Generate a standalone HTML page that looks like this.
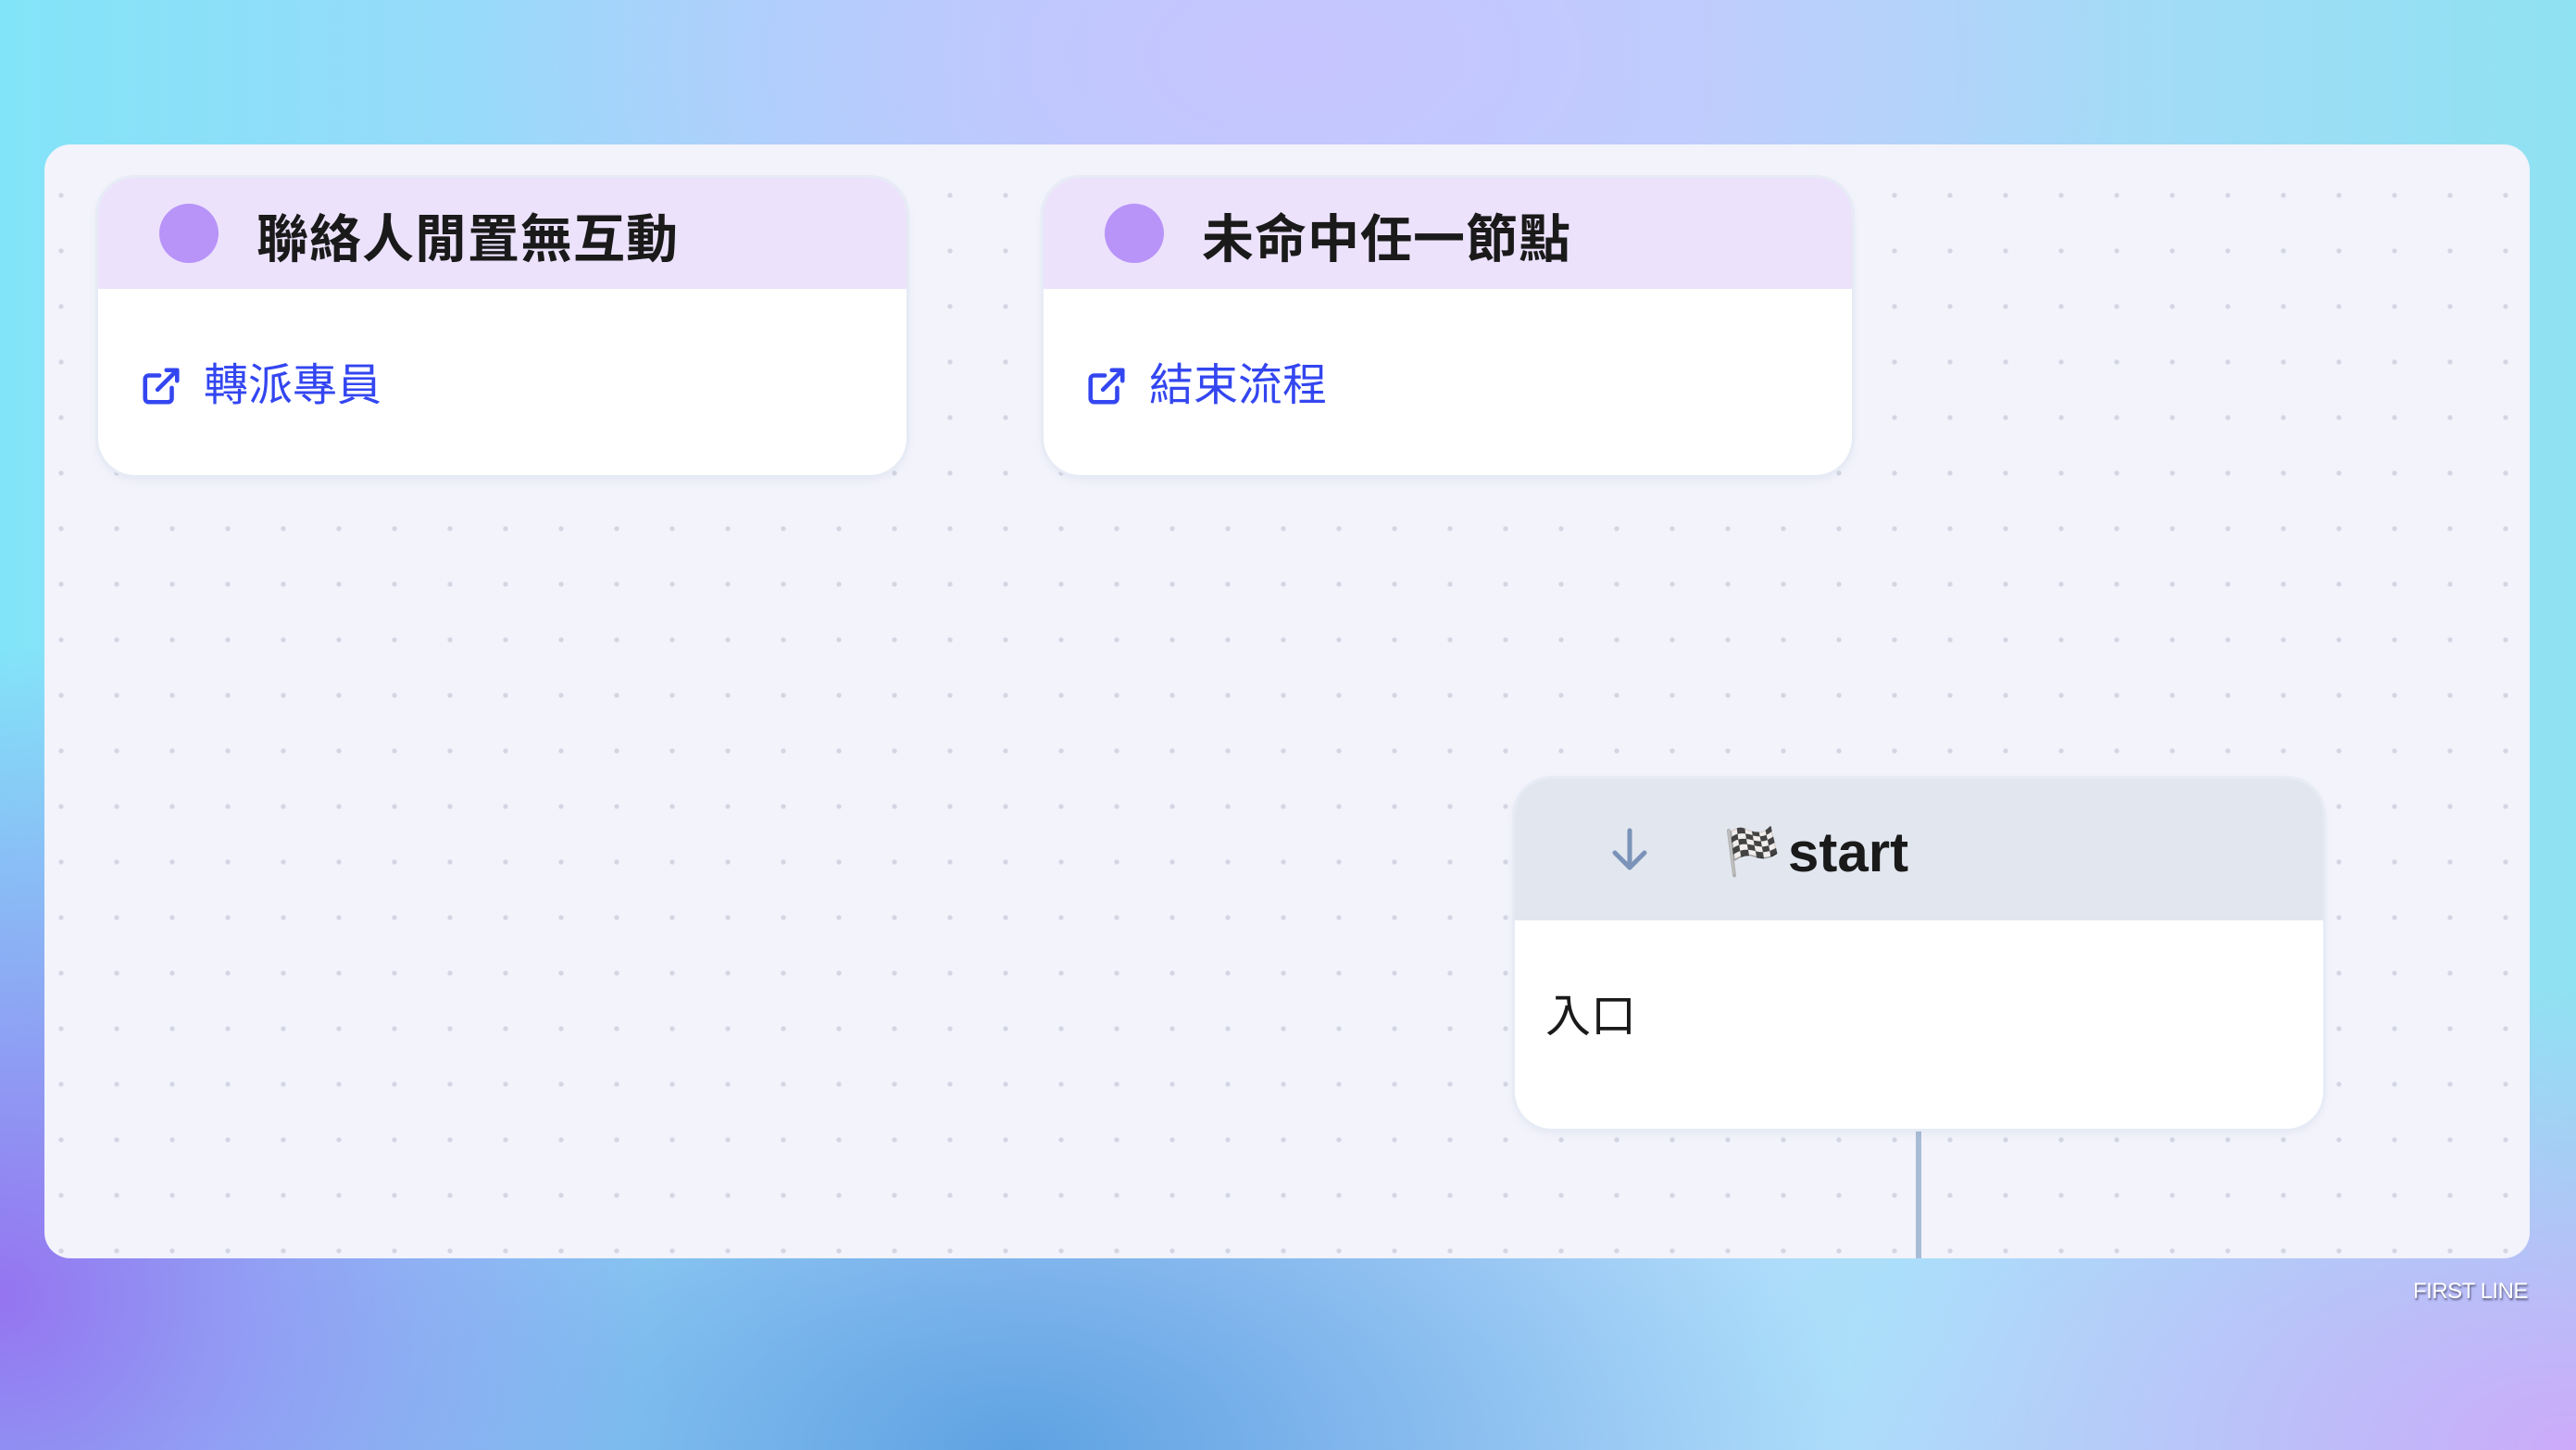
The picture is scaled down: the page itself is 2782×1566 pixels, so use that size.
<!DOCTYPE html>
<html><head><meta charset="utf-8">
<style>
html,body{margin:0;padding:0}
body{width:2782px;height:1566px;position:relative;overflow:hidden;
font-family:"Liberation Sans","Noto Sans CJK TC",sans-serif;
background:
radial-gradient(ellipse 900px 500px at 1400px 60px, rgba(200,196,255,0.95), rgba(200,196,255,0) 100%),
radial-gradient(ellipse 700px 700px at 0px 1400px, rgba(150,110,240,0.95), rgba(150,110,240,0) 100%),
radial-gradient(ellipse 900px 500px at 1100px 1566px, rgba(90,160,225,0.95), rgba(90,160,225,0) 100%),
radial-gradient(ellipse 800px 500px at 2782px 1566px, rgba(205,170,250,1), rgba(205,170,250,0) 100%),
radial-gradient(ellipse 800px 400px at 2100px 1450px, rgba(170,225,250,0.9), rgba(170,225,250,0) 100%),
linear-gradient(90deg,#82e4f8 0%,#b0cffb 40%,#b8d4fb 65%,#8fe2f2 100%);}
.panel{position:absolute;left:48px;top:156px;width:2684px;height:1203px;border-radius:28px;overflow:hidden;
background-color:#f2f3fb;
background-image:radial-gradient(circle,#d3d5e2 2.2px,transparent 3px);
background-size:60px 60px;background-position:-12px 25px;}
.card{position:absolute;background:#fff;border-radius:40px;overflow:hidden;box-shadow:0 0 0 3px #e6ebf5,0 4px 10px rgba(120,130,170,0.12);}
.hdr{position:absolute;left:0;top:0;right:0;background:#ece2fc}
.dot{position:absolute;width:64px;height:64px;border-radius:50%;background:#b893f8;left:66px;top:28px}
.title{position:absolute;left:171px;top:27px;font-size:56px;font-weight:bold;color:#1a1a1a;line-height:80px;letter-spacing:1px}
.link{position:absolute;left:114px;top:190px;font-size:48px;color:#3346f0;line-height:70px}
.ico{position:absolute;left:45px;top:202px}
</style></head><body>
<div class="panel">
<div class="card" style="left:58px;top:36px;width:873px;height:321px">
 <div class="hdr" style="height:120px"></div>
 <div class="dot"></div>
 <div class="title">聯絡人閒置無互動</div>
 <svg class="ico" width="46" height="46" viewBox="0 0 24 24" fill="none" stroke="#3346f0" stroke-width="2.4" stroke-linecap="round" stroke-linejoin="round"><path d="M18 13v6a2 2 0 0 1-2 2H5a2 2 0 0 1-2-2V8a2 2 0 0 1 2-2h6"/><path d="M15 3h6v6"/><path d="M10 14L21 3"/></svg>
 <div class="link">轉派專員</div>
</div>
<div class="card" style="left:1079px;top:36px;width:873px;height:321px">
 <div class="hdr" style="height:120px"></div>
 <div class="dot"></div>
 <div class="title">未命中任一節點</div>
 <svg class="ico" width="46" height="46" viewBox="0 0 24 24" fill="none" stroke="#3346f0" stroke-width="2.4" stroke-linecap="round" stroke-linejoin="round"><path d="M18 13v6a2 2 0 0 1-2 2H5a2 2 0 0 1-2-2V8a2 2 0 0 1 2-2h6"/><path d="M15 3h6v6"/><path d="M10 14L21 3"/></svg>
 <div class="link">結束流程</div>
</div>
<div style="position:absolute;left:2021px;top:1060px;width:6px;height:150px;background:#a9bcd6"></div>
<div class="card" style="left:1588px;top:685px;width:873px;height:378px">
 <div class="hdr" style="height:153px;background:#e1e6ef"></div>
 <svg style="position:absolute;left:102px;top:52px" width="44" height="50" viewBox="0 0 44 50" fill="none" stroke="#7b93b8" stroke-width="5" stroke-linecap="round" stroke-linejoin="round"><path d="M22 4v40"/><path d="M6 28l16 16 16-16"/></svg>
 <div style="position:absolute;left:225px;top:44px;font-size:50px;line-height:70px">🏁</div>
 <div style="position:absolute;left:295px;top:40px;font-size:60px;font-weight:bold;color:#1a1a1a;line-height:80px">start</div>
 <div style="position:absolute;left:33px;top:222px;font-size:49px;color:#1a1a1a;line-height:70px">入口</div>
</div>
</div>
<div style="position:absolute;left:2606px;top:1381px;font-size:24px;color:#fff;text-shadow:1px 2px 2px rgba(40,40,70,0.7);letter-spacing:-0.5px">FIRST LINE</div>
</body></html>
